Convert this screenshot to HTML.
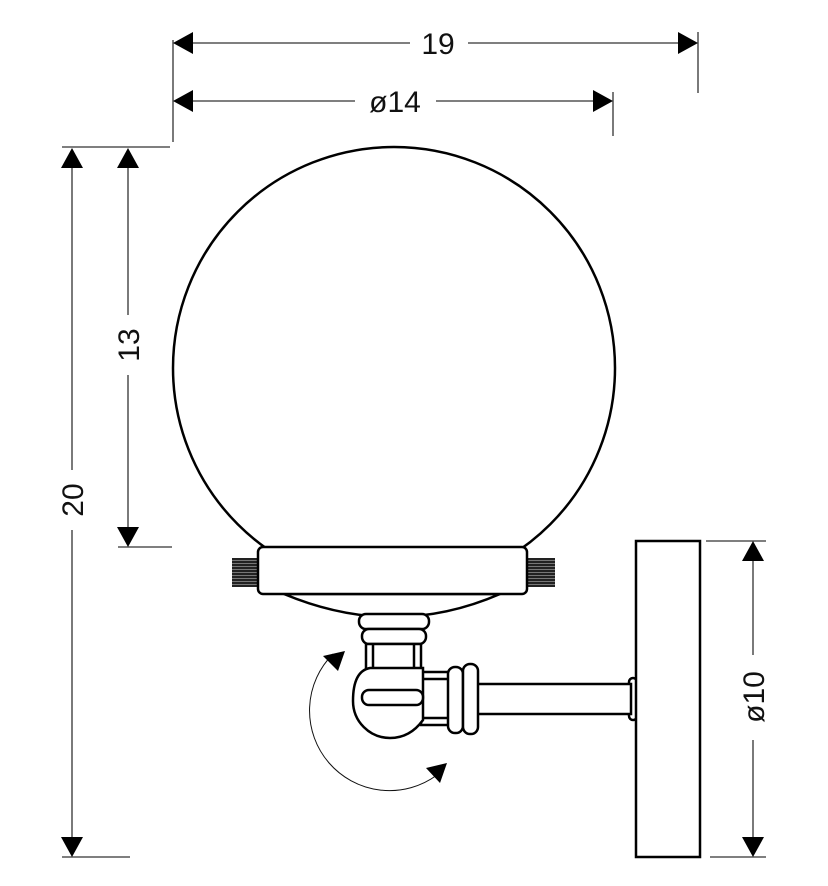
<!DOCTYPE html>
<html><head><meta charset="utf-8"><style>
html,body{margin:0;padding:0;background:#fff}
svg{display:block}
text{font-family:"Liberation Sans",Arial,sans-serif;font-size:30px;fill:#111}
</style></head><body>
<svg width="828" height="886" viewBox="0 0 828 886" xmlns="http://www.w3.org/2000/svg">
<defs>
<pattern id="kn" width="4" height="3" patternUnits="userSpaceOnUse"><rect width="4" height="3" fill="#222"/><rect y="2" width="4" height="1" fill="#777"/></pattern>
</defs>
<g stroke="#333" stroke-width="1.3" fill="none">
<line x1="173" y1="40" x2="173" y2="142"/>
<line x1="698" y1="32" x2="698" y2="93"/>
<line x1="613" y1="92" x2="613" y2="136"/>
<line x1="62" y1="147" x2="170" y2="147"/>
<line x1="62" y1="857" x2="130" y2="857"/>
<line x1="118" y1="547" x2="172" y2="547"/>
<line x1="706" y1="541" x2="766" y2="541"/>
<line x1="710" y1="857" x2="766" y2="857"/>
<line x1="190" y1="43" x2="410" y2="43"/><line x1="468" y1="43" x2="680" y2="43"/>
<line x1="190" y1="101" x2="355" y2="101"/><line x1="436" y1="101" x2="596" y2="101"/>
<line x1="72" y1="165" x2="72" y2="470"/><line x1="72" y1="530" x2="72" y2="840"/>
<line x1="128" y1="165" x2="128" y2="315"/><line x1="128" y1="375" x2="128" y2="530"/>
<line x1="753" y1="558" x2="753" y2="655"/><line x1="753" y1="740" x2="753" y2="840"/>
</g>
<g fill="#000">
<polygon points="173,43 193,32 193,54"/><polygon points="698,43 678,32 678,54"/>
<polygon points="173,101 193,90 193,112"/><polygon points="613,101 593,90 593,112"/>
<polygon points="72,148 61,168 83,168"/><polygon points="72,857 61,837 83,837"/>
<polygon points="128,148 117,168 139,168"/><polygon points="128,547 117,527 139,527"/>
<polygon points="753,541 742,561 764,561"/><polygon points="753,857 742,837 764,837"/>
</g>
<text x="438" y="54" text-anchor="middle">19</text>
<text x="395" y="112" text-anchor="middle">ø14</text>
<text transform="translate(139,345) rotate(-90)" text-anchor="middle">13</text>
<text transform="translate(83,500) rotate(-90)" text-anchor="middle">20</text>
<text transform="translate(764,697) rotate(-90)" text-anchor="middle">ø10</text>

<g stroke="#000" stroke-width="2.5" fill="#fff">
<circle cx="394" cy="368" r="221"/>
<path d="M284,594 Q394,640 500,594 Z"/>
<rect x="232" y="558" width="28" height="29" fill="url(#kn)" stroke="none"/>
<rect x="526" y="558" width="29" height="29" fill="url(#kn)" stroke="none"/>
<rect x="258" y="547" width="269" height="47" rx="5"/>
<rect x="359" y="614" width="70" height="15" rx="7"/>
<rect x="362" y="629" width="64" height="15" rx="7"/>
<rect x="366" y="644" width="55" height="26"/>
<line x1="373" y1="644" x2="373" y2="670"/><line x1="414" y1="644" x2="414" y2="670"/>
<rect x="629" y="678" width="8" height="42" rx="4"/>
<rect x="476" y="684" width="155" height="30"/>
<rect x="421" y="672" width="28" height="53"/>
<line x1="421" y1="679" x2="449" y2="679"/><line x1="421" y1="718" x2="449" y2="718"/>
<rect x="448" y="667" width="15" height="66" rx="7"/>
<rect x="463" y="664" width="15" height="70" rx="7"/>
<path d="M370,668 L423,668 L423,720 Q410,738 390,738 A37,37 0 0 1 353,701 Q353,671 370,668 Z"/>
<rect x="362" y="690" width="61" height="15" rx="7"/>
<rect x="636" y="541" width="64" height="316"/>
</g>
<path d="M333,654 A80,80 0 0 0 437,775" fill="none" stroke="#111" stroke-width="1"/>
<polygon points="345,651 323,656 338,671" fill="#000"/>
<polygon points="447,763 426,768 440,783" fill="#000"/>
</svg>
</body></html>
